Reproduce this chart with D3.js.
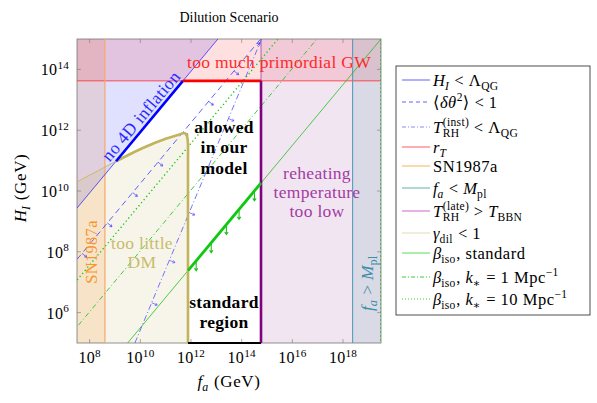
<!DOCTYPE html>
<html>
<head>
<meta charset="utf-8">
<title>Dilution Scenario</title>
<style>
body { margin:0; background:#fff; }
text { font-family: 'Liberation Serif', 'DejaVu Serif', serif; }
</style>
</head>
<body>
<script src="https://d3js.org/d3.v7.min.js"></script>
<script>
// ---- values (GeV) ----
var xTicks = [1e8, 1e10, 1e12, 1e14, 1e16, 1e18];
var yTicks = [1e6, 1e8, 1e10, 1e12, 1e14];

var rT   = 4.2e13;   // too much primordial GW
var fSN  = 4e8;      // SN1987a
var fPl  = 2.4e18;   // f_a < M_pl
var fBBN = 5.8e14;   // T_RH(late) > T_BBN

var hQG      = [[1e7, 8.7e8], [1.2e13, 1.04e15]];     // H_I < Lambda_QG
var hQGThick = [[1.1e9, 9.5e10], [4.8e11, 4.2e13]];
var dTheta   = [[1e7, 1.78e7], [5.6e14, 1e15]];       // <dtheta^2> < 1
var trhInst  = [[6.1e9, 1e5], [6.1e14, 1e15]];        // T_RH(inst) < Lambda_QG
var isoStd   = [[3.16e9, 1e5], [3.16e19, 1e15]];
var isoStdThick = [[7.6e11, 2.4e7], [5.8e14, 1.83e10]];
var isoK1    = [[1e7, 1.07e5], [9.3e16, 1e15]];
var isoK10   = [[1e7, 3.7e6], [2.7e15, 1e15]];

// gamma_dil < 1 boundary
var dil = [[3.16e7, 2.0e10], [1.1e9, 9.5e10], [1.26e10, 2.6e11], [1e11, 5.2e11],
           [3.2e11, 7.1e11], [5e11, 7.9e11], [6.3e11, 7.6e11], [7.2e11, 5.6e11],
           [7.6e11, 3.2e11], [7.6e11, 1e11], [7.6e11, 1e5]];

var isoArrows    = [1.6e12, 6.3e12, 2.5e13, 7.9e13, 3.2e14];
var dThetaArrows = [5e7, 5e8, 5e9, 5e10, 5e11, 5e12, 5e13];
var trhArrows    = [2.8e10, 1.4e11, 8.5e11, 5e12, 3e13];

var legendItems = [
  {parts: [{s:"H", it:1, sub:"I", subIt:1}, {s:" < Λ", sub:"QG"}], color:"#3a3aff", dash:null},
  {parts: [{s:"⟨"}, {s:"δθ", it:1, sup:"2"}, {s:"⟩ < 1"}], color:"#3a3aff", dash:"4,3"},
  {parts: [{s:"T", it:1, sup:"(inst)", sub:"RH"}, {s:" < Λ", sub:"QG"}], color:"#6a6aff", dash:"4,2,1,2"},
  {parts: [{s:"r", it:1, sub:"T", subIt:1}], color:"#ff3030", dash:null},
  {parts: [{s:"SN1987a"}], color:"#ff9a30", dash:null},
  {parts: [{s:"f", it:1, sub:"a", subIt:1}, {s:" < "}, {s:"M", it:1, sub:"pl"}], color:"#3a9c9c", dash:null},
  {parts: [{s:"T", it:1, sup:"(late)", sub:"RH"}, {s:" > "}, {s:"T", it:1, sub:"BBN"}], color:"#c040c0", dash:null},
  {parts: [{s:"γ", it:1, sub:"dil"}, {s:" < 1"}], color:"#d8d0a0", dash:null},
  {parts: [{s:"β", it:1, sub:"iso"}, {s:", standard"}], color:"#30d030", dash:null},
  {parts: [{s:"β", it:1, sub:"iso"}, {s:", "}, {s:"k", it:1, sub:"∗"}, {s:" = 1 Mpc", sup:"−1"}], color:"#00c800", dash:"4,2,1,2"},
  {parts: [{s:"β", it:1, sub:"iso"}, {s:", "}, {s:"k", it:1, sub:"∗"}, {s:" = 10 Mpc", sup:"−1"}], color:"#00c800", dash:"1,2"}
];

// ---- layout ----
var width = 597, height = 403;
var L = 77, R = 381, T = 39, B = 343;

var x = d3.scaleLog().domain([Math.pow(10, 7.5), Math.pow(10, 19.5)]).range([L, R]);
var y = d3.scaleLog().domain([1e5, 1e15]).range([B, T]);

var svg = d3.select("body").append("svg")
    .attr("width", width)
    .attr("height", height);

svg.append("defs").append("clipPath").attr("id", "clip")
  .append("rect").attr("x", L).attr("y", T).attr("width", R - L).attr("height", B - T);

var line = d3.line().x(function(d) { return x(d[0]); }).y(function(d) { return y(d[1]); });

// small helper to lay out math-like text out of pieces
function nb(s) { return s.replace(/ /g, "\u00a0"); }
function mathText(g, parts, size, ls) {
  var cx = 0;
  ls = ls || 0;
  parts.forEach(function(p) {
    var w = 0, w2 = 0;
    if (p.s !== undefined) {
      var t = g.append("text").attr("x", cx).attr("y", 0)
        .attr("font-size", size)
        .attr("letter-spacing", ls)
        .attr("font-style", p.it ? "italic" : "normal")
        .attr("font-weight", p.bf ? "bold" : "normal")
        .text(nb(p.s));
      w = t.node().getComputedTextLength();
    }
    if (p.sup) {
      var t2 = g.append("text").attr("x", cx + w).attr("y", -size * 0.4)
        .attr("font-size", size * 0.7).attr("letter-spacing", ls * 0.7).text(nb(p.sup));
      w2 = Math.max(w2, t2.node().getComputedTextLength());
    }
    if (p.sub) {
      var t3 = g.append("text").attr("x", cx + w + (p.it && !p.sup ? -0.5 : 0)).attr("y", size * 0.25)
        .attr("font-size", size * 0.7).attr("letter-spacing", ls * 0.7)
        .attr("font-style", p.subIt ? "italic" : "normal").text(nb(p.sub));
      w2 = Math.max(w2, t3.node().getComputedTextLength());
    }
    cx += w + w2;
  });
  return cx;
}
function centered(parent, parts, size, cxp, cyp, rot, color, ls) {
  var g = parent.append("g").attr("fill", color);
  var inner = g.append("g");
  var w = mathText(inner, parts, size, ls);
  inner.attr("transform", "translate(" + (-w / 2) + "," + (size * 0.33) + ")");
  g.attr("transform", "translate(" + cxp + "," + cyp + ") rotate(" + (rot || 0) + ")");
  return g;
}

function arrow(g, px, py, ux, uy, len, head, color, sw) {
  var tx = px + ux * len, ty = py + uy * len;
  var c = Math.cos(0.6), s = Math.sin(0.6);
  var bx = -ux, by = -uy;
  var a1 = [tx + head * (bx * c - by * s), ty + head * (bx * s + by * c)];
  var a2 = [tx + head * (bx * c + by * s), ty + head * (-bx * s + by * c)];
  g.append("path")
    .attr("d", "M" + px + "," + py + "L" + tx + "," + ty + "M" + a1 + "L" + tx + "," + ty + "L" + a2)
    .attr("fill", "none").attr("stroke", color).attr("stroke-width", sw);
}
function onLine(seg, fa) {
  var lx0 = Math.log10(seg[0][0]), ly0 = Math.log10(seg[0][1]);
  var lx1 = Math.log10(seg[1][0]), ly1 = Math.log10(seg[1][1]);
  var k = (ly1 - ly0) / (lx1 - lx0);
  return [fa, Math.pow(10, ly0 + k * (Math.log10(fa) - lx0))];
}

// ---- shaded regions ----
var fills = svg.append("g").attr("clip-path", "url(#clip)");
fills.append("rect").attr("x", L).attr("y", T).attr("width", x(fSN) - L).attr("height", B - T)
  .attr("fill", "#ff8000").attr("fill-opacity", 0.15);
fills.append("path").attr("d", line([hQG[0], hQG[1], [1e7, 1.04e15]]) + "Z")
  .attr("fill", "#0000ff").attr("fill-opacity", 0.12);
var dilLine = d3.line().x(function(d) { return x(d[0]); }).y(function(d) { return y(d[1]); })
  .curve(d3.curveCatmullRom.alpha(0.5));
fills.append("path").attr("d", dilLine(dil) + "L" + x(dil[0][0]) + "," + y(1e5) + "Z")
  .attr("fill", "#c0b050").attr("fill-opacity", 0.12);
fills.append("rect").attr("x", L).attr("y", T).attr("width", R - L).attr("height", y(rT) - T)
  .attr("fill", "#ff0000").attr("fill-opacity", 0.12);
fills.append("rect").attr("x", x(fBBN)).attr("y", T).attr("width", R - x(fBBN)).attr("height", B - T)
  .attr("fill", "#800080").attr("fill-opacity", 0.1);
fills.append("rect").attr("x", x(fPl)).attr("y", T).attr("width", R - x(fPl)).attr("height", B - T)
  .attr("fill", "#008080").attr("fill-opacity", 0.1);

// ---- frame and ticks ----
var frame = svg.append("g");
frame.append("rect").attr("x", L).attr("y", T).attr("width", R - L).attr("height", B - T)
  .attr("fill", "none").attr("stroke", "#777").attr("stroke-width", 0.8);
xTicks.forEach(function(t) {
  frame.append("line").attr("x1", x(t)).attr("x2", x(t)).attr("y1", B).attr("y2", B - 4).attr("stroke", "#777").attr("stroke-width", 0.6);
  frame.append("line").attr("x1", x(t)).attr("x2", x(t)).attr("y1", T).attr("y2", T + 4).attr("stroke", "#777").attr("stroke-width", 0.6);
  var g = svg.append("g").attr("fill", "#000");
  var inner = g.append("g");
  var w = mathText(inner, [{s:"10", sup:String(Math.round(Math.log10(t)))}], 16, 0.3);
  g.attr("transform", "translate(" + (x(t) - w / 2) + "," + (B + 20) + ")");
});
yTicks.forEach(function(t) {
  frame.append("line").attr("x1", L).attr("x2", L + 4).attr("y1", y(t)).attr("y2", y(t)).attr("stroke", "#777").attr("stroke-width", 0.6);
  frame.append("line").attr("x1", R).attr("x2", R - 4).attr("y1", y(t)).attr("y2", y(t)).attr("stroke", "#777").attr("stroke-width", 0.6);
  var g = svg.append("g").attr("fill", "#000");
  var inner = g.append("g");
  var w = mathText(inner, [{s:"10", sup:String(Math.round(Math.log10(t)))}], 16, 0.3);
  g.attr("transform", "translate(" + (L - 8 - w) + "," + (y(t) + 6) + ")");
});

// ---- constraint lines ----
var lines = svg.append("g").attr("clip-path", "url(#clip)").attr("fill", "none");
lines.append("line").attr("x1", L).attr("x2", R).attr("y1", y(rT)).attr("y2", y(rT))
  .attr("stroke", "#ff2a2a").attr("stroke-width", 0.8);
lines.append("line").attr("x1", x(fSN)).attr("x2", x(fSN)).attr("y1", T).attr("y2", B)
  .attr("stroke", "#f8a868").attr("stroke-width", 1.2);
lines.append("line").attr("x1", x(fPl)).attr("x2", x(fPl)).attr("y1", T).attr("y2", B)
  .attr("stroke", "#4a98b8").attr("stroke-width", 1);
lines.append("line").attr("x1", x(fBBN)).attr("x2", x(fBBN)).attr("y1", T).attr("y2", B)
  .attr("stroke", "#a040a0").attr("stroke-width", 0.8);
lines.append("line").attr("x1", R - 0.5).attr("x2", R - 0.5).attr("y1", T).attr("y2", B)
  .attr("stroke", "#30c030").attr("stroke-width", 0.8).attr("stroke-dasharray", "2,2");
lines.append("path").attr("d", line(hQG)).attr("stroke", "#3030ff").attr("stroke-width", 0.8);
lines.append("path").attr("d", dilLine(dil)).attr("stroke", "#c8b860").attr("stroke-width", 0.9);
lines.append("path").attr("d", line(isoStd)).attr("stroke", "#20c020").attr("stroke-width", 0.8);
lines.append("path").attr("d", line(isoK1)).attr("stroke", "#10c010").attr("stroke-width", 0.8)
  .attr("stroke-dasharray", "5,2.5,1,2.5");
lines.append("path").attr("d", line(isoK10)).attr("stroke", "#10c810").attr("stroke-width", 1.3)
  .attr("stroke-dasharray", "1.3,2.7");
lines.append("path").attr("d", line(dTheta)).attr("stroke", "#3a3aff").attr("stroke-width", 0.8)
  .attr("stroke-dasharray", "6,4");
lines.append("path").attr("d", line(trhInst)).attr("stroke", "#5050ff").attr("stroke-width", 0.8)
  .attr("stroke-dasharray", "6,2.5,1,2.5");

// arrow marks on the exclusion lines
var marks = svg.append("g").attr("clip-path", "url(#clip)");
function perpMarks(seg, fas, color) {
  var p0 = [x(seg[0][0]), y(seg[0][1])], p1 = [x(seg[1][0]), y(seg[1][1])];
  var dx = p1[0] - p0[0], dy = p1[1] - p0[1], n = Math.sqrt(dx * dx + dy * dy);
  var ux = -dy / n, uy = dx / n;
  if (ux < 0) { ux = -ux; uy = -uy; }
  fas.forEach(function(fa) {
    var p = onLine(seg, fa);
    arrow(marks, x(p[0]), y(p[1]), ux, uy, 6, 2.5, color, 0.7);
  });
}
perpMarks(dTheta, dThetaArrows, "#3a3aff");
perpMarks(trhInst, trhArrows, "#5050ff");
(function() {
  var p0 = [x(dTheta[0][0]), y(dTheta[0][1])], p1 = [x(dTheta[1][0]), y(dTheta[1][1])];
  var dx = p1[0] - p0[0], dy = p1[1] - p0[1], n = Math.sqrt(dx * dx + dy * dy);
  arrow(marks, p1[0] - dx / n * 5, p1[1] - dy / n * 5 + 3, dx / n, dy / n, 4, 3, "#3a3aff", 0.8);
})();
isoArrows.forEach(function(fa) {
  var p = onLine(isoStd, fa);
  arrow(marks, x(p[0]), y(p[1]), 0, 1, 10, 3, "#20c020", 1.1);
});

// ---- thick boundary of the allowed region ----
var thick = svg.append("g").attr("fill", "none");
thick.append("path").attr("d", dilLine(dil.slice(1))).attr("stroke", "#c2b45c").attr("stroke-width", 2.6);
thick.append("path").attr("d", line(hQGThick)).attr("stroke", "#0000ff").attr("stroke-width", 2.6);
thick.append("path").attr("d", line([[hQGThick[1][0], rT], [fBBN, rT]])).attr("stroke", "#ff0000").attr("stroke-width", 2.6);
thick.append("path").attr("d", line([[fBBN, rT], [fBBN, 1e5]])).attr("stroke", "#800080").attr("stroke-width", 2.6);
thick.append("path").attr("d", line([[dil[dil.length - 1][0], 1e5], [fBBN, 1e5]])).attr("stroke", "#000").attr("stroke-width", 2);
thick.append("path").attr("d", line(isoStdThick)).attr("stroke", "#10c810").attr("stroke-width", 2.8);

// ---- labels in the plot ----
var labels = svg.append("g");
var fs = 17.5, ls = 0.3;
centered(labels, [{s:"too much primordial GW"}], fs, 279, 62, 0, "#ff2a2a", ls);
centered(labels, [{s:"no 4D inflation"}], fs, 141, 116, -50, "#2a2aff", ls);
centered(labels, [{s:"allowed", bf:1}], fs, 224, 127, 0, "#000", ls);
centered(labels, [{s:"in our", bf:1}], fs, 224, 147, 0, "#000", ls);
centered(labels, [{s:"model", bf:1}], fs, 224, 168, 0, "#000", ls);
centered(labels, [{s:"too little"}], fs, 142, 243, 0, "#c9bb6e", ls);
centered(labels, [{s:"DM"}], fs, 142, 262, 0, "#c9bb6e", ls);
centered(labels, [{s:"SN1987a"}], 16.5, 92, 252, -90, "#f7962f", ls);
centered(labels, [{s:"standard", bf:1}], fs, 224, 302, 0, "#000", ls);
centered(labels, [{s:"region", bf:1}], fs, 224, 322, 0, "#000", ls);
centered(labels, [{s:"reheating"}], fs, 317, 173, 0, "#a23ca2", ls);
centered(labels, [{s:"temperature"}], fs, 317, 192, 0, "#a23ca2", ls);
centered(labels, [{s:"too low"}], fs, 317, 211, 0, "#a23ca2", ls);
centered(labels, [{s:"f", it:1, sub:"a", subIt:1}, {s:" > "}, {s:"M", it:1, sub:"pl"}], fs, 367, 283, -90, "#3b8ea8", ls);

// ---- titles ----
centered(svg, [{s:"Dilution Scenario"}], 14, 229, 17, 0, "#000");
centered(svg, [{s:"f", it:1, sub:"a", subIt:1}, {s:" (GeV)"}], 17, 229, 381, 0, "#000", 0.6);
centered(svg, [{s:"H", it:1, sub:"I", subIt:1}, {s:" (GeV)"}], 17, 20, 188, -90, "#000", 0.6);

// ---- legend ----
var lg = svg.append("g");
var gaps = [0, 22, 25, 20, 19, 22, 23, 22, 20, 24, 22];
var lx = 396, ly = 66, ry = 80;
var rows = [];
legendItems.forEach(function(d, i) { ry += gaps[i]; rows.push(ry); });
lg.append("rect").attr("x", lx).attr("y", ly).attr("width", 194).attr("height", 249)
  .attr("fill", "#fff").attr("stroke", "#222").attr("stroke-width", 0.8);
legendItems.forEach(function(d, i) {
  var yy = rows[i];
  lg.append("line").attr("x1", lx + 6).attr("x2", lx + 34).attr("y1", yy).attr("y2", yy)
    .attr("stroke", d.color).attr("stroke-width", 0.8)
    .attr("stroke-dasharray", d.dash);
  var g = lg.append("g").attr("fill", "#000").attr("transform", "translate(" + (lx + 37) + "," + (yy + 5.5) + ")");
  mathText(g, d.parts, 16.5, 0.5);
});
</script>
</body>
</html>
